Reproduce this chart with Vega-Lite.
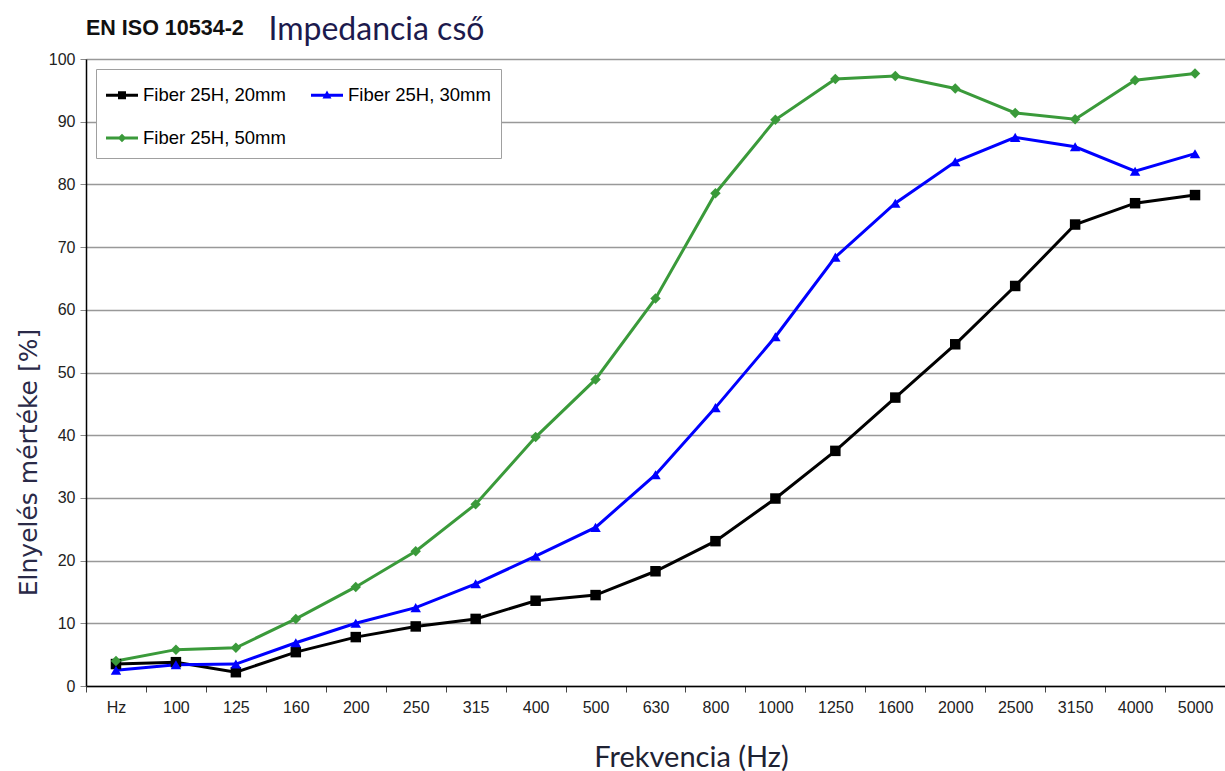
{
  "$schema": "https://vega.github.io/schema/vega-lite/v6.json",
  "autosize": "none",
  "width": 1139,
  "height": 627,
  "padding": {"left": 86, "top": 59, "right": 0, "bottom": 85},
  "background": "white",
  "title": {
    "text": "EN ISO 10534-2",
    "anchor": "start",
    "frame": "group",
    "baseline": "alphabetic",
    "font": "Liberation Sans",
    "fontSize": 21.5,
    "fontWeight": "bold",
    "color": "#111111",
    "offset": -43
  },
  "data": {
    "values": [
      {"f": "Hz", "series": "Fiber 25H, 20mm", "v": 3.5},
      {"f": "100", "series": "Fiber 25H, 20mm", "v": 3.8},
      {"f": "125", "series": "Fiber 25H, 20mm", "v": 2.2},
      {"f": "160", "series": "Fiber 25H, 20mm", "v": 5.4},
      {"f": "200", "series": "Fiber 25H, 20mm", "v": 7.8},
      {"f": "250", "series": "Fiber 25H, 20mm", "v": 9.5},
      {"f": "315", "series": "Fiber 25H, 20mm", "v": 10.7},
      {"f": "400", "series": "Fiber 25H, 20mm", "v": 13.6},
      {"f": "500", "series": "Fiber 25H, 20mm", "v": 14.5},
      {"f": "630", "series": "Fiber 25H, 20mm", "v": 18.3},
      {"f": "800", "series": "Fiber 25H, 20mm", "v": 23.1},
      {"f": "1000", "series": "Fiber 25H, 20mm", "v": 29.9},
      {"f": "1250", "series": "Fiber 25H, 20mm", "v": 37.5},
      {"f": "1600", "series": "Fiber 25H, 20mm", "v": 46.0},
      {"f": "2000", "series": "Fiber 25H, 20mm", "v": 54.5},
      {"f": "2500", "series": "Fiber 25H, 20mm", "v": 63.8},
      {"f": "3150", "series": "Fiber 25H, 20mm", "v": 73.6},
      {"f": "4000", "series": "Fiber 25H, 20mm", "v": 77.0},
      {"f": "5000", "series": "Fiber 25H, 20mm", "v": 78.3},
      {"f": "Hz", "series": "Fiber 25H, 30mm", "v": 2.5},
      {"f": "100", "series": "Fiber 25H, 30mm", "v": 3.4},
      {"f": "125", "series": "Fiber 25H, 30mm", "v": 3.5},
      {"f": "160", "series": "Fiber 25H, 30mm", "v": 6.9},
      {"f": "200", "series": "Fiber 25H, 30mm", "v": 10.0},
      {"f": "250", "series": "Fiber 25H, 30mm", "v": 12.5},
      {"f": "315", "series": "Fiber 25H, 30mm", "v": 16.3},
      {"f": "400", "series": "Fiber 25H, 30mm", "v": 20.7},
      {"f": "500", "series": "Fiber 25H, 30mm", "v": 25.3},
      {"f": "630", "series": "Fiber 25H, 30mm", "v": 33.7},
      {"f": "800", "series": "Fiber 25H, 30mm", "v": 44.4},
      {"f": "1000", "series": "Fiber 25H, 30mm", "v": 55.7},
      {"f": "1250", "series": "Fiber 25H, 30mm", "v": 68.4},
      {"f": "1600", "series": "Fiber 25H, 30mm", "v": 77.0},
      {"f": "2000", "series": "Fiber 25H, 30mm", "v": 83.6},
      {"f": "2500", "series": "Fiber 25H, 30mm", "v": 87.5},
      {"f": "3150", "series": "Fiber 25H, 30mm", "v": 86.0},
      {"f": "4000", "series": "Fiber 25H, 30mm", "v": 82.1},
      {"f": "5000", "series": "Fiber 25H, 30mm", "v": 84.9},
      {"f": "Hz", "series": "Fiber 25H, 50mm", "v": 4.0},
      {"f": "100", "series": "Fiber 25H, 50mm", "v": 5.8},
      {"f": "125", "series": "Fiber 25H, 50mm", "v": 6.1},
      {"f": "160", "series": "Fiber 25H, 50mm", "v": 10.7},
      {"f": "200", "series": "Fiber 25H, 50mm", "v": 15.8},
      {"f": "250", "series": "Fiber 25H, 50mm", "v": 21.5},
      {"f": "315", "series": "Fiber 25H, 50mm", "v": 29.0},
      {"f": "400", "series": "Fiber 25H, 50mm", "v": 39.7},
      {"f": "500", "series": "Fiber 25H, 50mm", "v": 48.9},
      {"f": "630", "series": "Fiber 25H, 50mm", "v": 61.8},
      {"f": "800", "series": "Fiber 25H, 50mm", "v": 78.6},
      {"f": "1000", "series": "Fiber 25H, 50mm", "v": 90.3},
      {"f": "1250", "series": "Fiber 25H, 50mm", "v": 96.8},
      {"f": "1600", "series": "Fiber 25H, 50mm", "v": 97.3},
      {"f": "2000", "series": "Fiber 25H, 50mm", "v": 95.3},
      {"f": "2500", "series": "Fiber 25H, 50mm", "v": 91.4},
      {"f": "3150", "series": "Fiber 25H, 50mm", "v": 90.4},
      {"f": "4000", "series": "Fiber 25H, 50mm", "v": 96.6},
      {"f": "5000", "series": "Fiber 25H, 50mm", "v": 97.7}
    ]
  },
  "encoding": {
    "x": {
      "field": "f",
      "type": "nominal",
      "sort": ["Hz", "100", "125", "160", "200", "250", "315", "400", "500", "630", "800", "1000", "1250", "1600", "2000", "2500", "3150", "4000", "5000"],
      "scale": {"paddingInner": 0, "paddingOuter": 0},
      "axis": {
        "title": "Frekvencia (Hz)",
        "titleFont": "Lato",
        "titleFontSize": 29,
        "titleFontWeight": "normal",
        "titleColor": "#1e2233",
        "titleX": 605,
        "titleY": 71,
        "titleBaseline": "middle",
        "labelAngle": 0,
        "labelFont": "Liberation Sans",
        "labelFontSize": 16,
        "labelColor": "#222222",
        "labelPadding": 7,
        "tickBand": "extent",
        "tickSize": 6,
        "tickColor": "#444444",
        "domainColor": "#000000",
        "domainWidth": 1.5,
        "grid": false
      }
    },
    "y": {
      "field": "v",
      "type": "quantitative",
      "scale": {"domain": [0, 100], "nice": false},
      "axis": {
        "values": [0, 10, 20, 30, 40, 50, 60, 70, 80, 90, 100],
        "title": "Elnyelés mértéke  [%]",
        "titleFont": "DejaVu Sans",
        "titleFontSize": 25,
        "titleFontWeight": "normal",
        "titleColor": "#2a2a48",
        "titleAngle": 270,
        "titleX": -58,
        "titleY": 403,
        "titleAlign": "center",
        "titleBaseline": "middle",
        "labelFont": "Liberation Sans",
        "labelFontSize": 16,
        "labelColor": "#222222",
        "labelPadding": 5,
        "tickSize": 6,
        "tickColor": "#888888",
        "domainColor": "#000000",
        "domainWidth": 1.5,
        "grid": true,
        "gridColor": "#999999",
        "gridWidth": 1.5
      }
    }
  },
  "layer": [
    {
      "mark": {"type": "line", "strokeWidth": 3},
      "encoding": {
        "color": {
          "field": "series",
          "type": "nominal",
          "scale": {"domain": ["Fiber 25H, 20mm", "Fiber 25H, 30mm", "Fiber 25H, 50mm"], "range": ["#000000", "#0000ff", "#3a9a3a"]},
          "legend": null
        }
      }
    },
    {
      "mark": {"type": "point", "filled": true, "opacity": 1},
      "encoding": {
        "x": {
          "field": "f",
          "type": "nominal",
          "sort": ["Hz", "100", "125", "160", "200", "250", "315", "400", "500", "630", "800", "1000", "1250", "1600", "2000", "2500", "3150", "4000", "5000"],
          "scale": {"paddingInner": 0, "paddingOuter": 0},
          "axis": {
            "orient": "top",
            "labels": false,
            "ticks": false,
            "domain": false,
            "grid": false,
            "title": "Impedancia cső",
            "titleFont": "Lato",
            "titleFontSize": 32,
            "titleFontWeight": "normal",
            "titleColor": "#1c1a4d",
            "titleX": 182,
            "titleY": -20,
            "titleAlign": "left",
            "titleBaseline": "alphabetic"
          }
        },
        "color": {
          "field": "series",
          "type": "nominal",
          "scale": {"domain": ["Fiber 25H, 20mm", "Fiber 25H, 30mm", "Fiber 25H, 50mm"], "range": ["#000000", "#0000ff", "#3a9a3a"]},
          "legend": null
        },
        "shape": {
          "field": "series",
          "type": "nominal",
          "scale": {"domain": ["Fiber 25H, 20mm", "Fiber 25H, 30mm", "Fiber 25H, 50mm"], "range": ["square", "triangle-up", "diamond"]},
          "legend": null
        },
        "size": {"value": 110}
      }
    },
    {
      "transform": [{"filter": "false"}],
      "mark": {"type": "point", "filled": true, "opacity": 1},
      "encoding": {
        "x": null,
        "y": null,
        "color": {
          "field": "series",
          "type": "nominal",
          "scale": {"domain": ["Fiber 25H, 20mm", "Fiber 25H, 30mm", "Fiber 25H, 50mm"], "range": ["#000000", "#0000ff", "#3a9a3a"]},
          "legend": {"title": null}
        },
        "shape": {
          "field": "series",
          "type": "nominal",
          "scale": {
            "domain": ["Fiber 25H, 20mm", "Fiber 25H, 30mm", "Fiber 25H, 50mm"],
            "range": [
              "M-1,-0.09H1V0.09H-1Z M-0.25,-0.25H0.25V0.25H-0.25Z",
              "M-1,-0.09H1V0.09H-1Z M0,-0.3L0.28,0.2L-0.28,0.2Z",
              "M-1,-0.09H1V0.09H-1Z M0,-0.27L0.27,0L0,0.27L-0.27,0Z"
            ]
          },
          "legend": {"title": null}
        }
      }
    }
  ],
  "resolve": {"scale": {"color": "independent", "shape": "independent"}, "axis": {"x": "independent"}},
  "config": {
    "view": {"stroke": null},
    "legend": {
      "orient": "top-left",
      "direction": "horizontal",
      "columns": 2,
      "offset": 10,
      "padding": 10,
      "strokeColor": "#a0a0a0",
      "fillColor": "white",
      "labelFont": "Liberation Sans",
      "labelFontSize": 18.5,
      "labelColor": "#000000",
      "labelOffset": 5,
      "labelLimit": 300,
      "symbolSize": 1024,
      "symbolStrokeWidth": 0,
      "columnPadding": 25,
      "rowPadding": 17
    }
  }
}
